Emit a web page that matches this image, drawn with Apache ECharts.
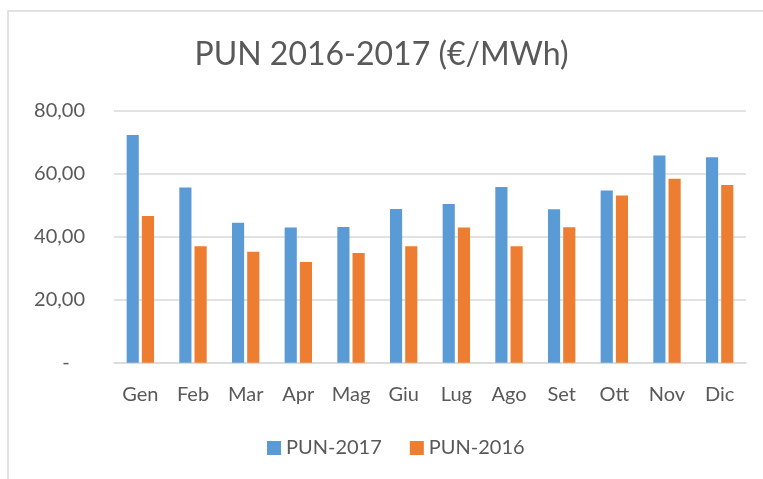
<!DOCTYPE html>
<html>
<head>
<meta charset="utf-8">
<script src="https://cdn.jsdelivr.net/npm/echarts@6/dist/echarts.min.js"></script>
<style>
  html, body { margin: 0; padding: 0; background: #fff; }
  #main { width: 763px; height: 479px; }
</style>
</head>
<body>
<div id="main"></div>
<script>
// mesi
var months = ["Gen", "Feb", "Mar", "Apr", "Mag", "Giu", "Lug", "Ago", "Set", "Ott", "Nov", "Dic"];
// PUN medio mensile (€/MWh)
var pun2017 = [72.3, 55.6, 44.4, 42.9, 43.1, 48.8, 50.4, 55.8, 48.7, 54.7, 65.8, 65.2];
var pun2016 = [46.6, 37.0, 35.2, 32.0, 34.8, 37.0, 42.9, 37.0, 43.0, 53.1, 58.4, 56.4];

var font = "Lato";
var txt = "#595959";

var chart = echarts.init(document.getElementById("main"));
chart.setOption({
  animation: false,
  color: ["#5b9bd5", "#ed7d31"],
  textStyle: { fontFamily: font },
  graphic: [
    {
      // cornice del grafico (solo lato sinistro e superiore visibili)
      type: "rect",
      shape: { x: 8, y: 11, width: 800, height: 500 },
      style: { fill: "none", stroke: "#d9d9d9", lineWidth: 1.5 },
      silent: true
    }
  ],
  title: {
    text: "PUN 2016-2017 (€/MWh)",
    left: "center",
    top: 34,
    textStyle: { fontFamily: font, fontSize: 32, fontWeight: "normal", color: txt }
  },
  legend: {
    bottom: 16,
    left: 262,
    itemWidth: 14,
    itemHeight: 14,
    itemGap: 28,
    icon: "rect",
    textStyle: { fontFamily: font, fontSize: 20, color: txt },
    data: ["PUN-2017", "PUN-2016"]
  },
  grid: { left: 114, right: 17, top: 110.7, bottom: 116.3 },
  xAxis: {
    type: "category",
    data: months,
    axisLine: { lineStyle: { color: "#d9d9d9", width: 1.5 } },
    axisTick: { show: false },
    axisLabel: { fontFamily: font, fontSize: 20, color: txt, margin: 22 }
  },
  yAxis: {
    type: "value",
    min: 0,
    max: 80,
    interval: 20,
    axisLine: { show: false },
    axisTick: { show: false },
    splitLine: { lineStyle: { color: "#d9d9d9", width: 1.5 } },
    axisLabel: {
      fontFamily: font, fontSize: 20, color: txt, margin: 29,
      formatter: function (v) { return v === 0 ? "-   " : v.toFixed(2).replace(".", ","); }
    }
  },
  series: [
    { name: "PUN-2017", type: "bar", data: pun2017, barGap: "25%", barCategoryGap: "48%" },
    { name: "PUN-2016", type: "bar", data: pun2016, barGap: "25%", barCategoryGap: "48%" }
  ]
});
</script>
</body>
</html>
